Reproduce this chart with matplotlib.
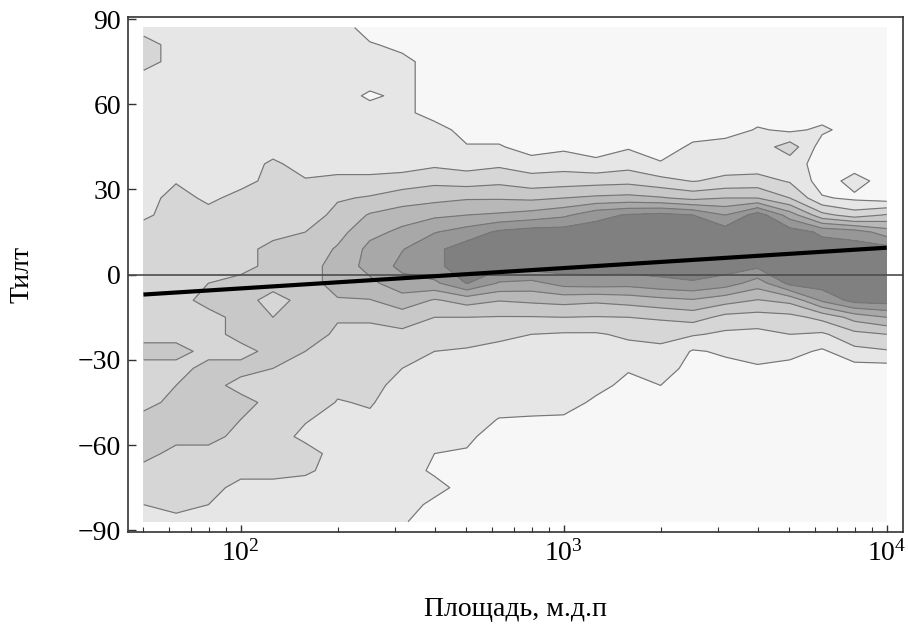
import numpy as np
import matplotlib
matplotlib.use("Agg")
from matplotlib import pyplot as plt
from matplotlib.ticker import FixedLocator, LogLocator, NullFormatter

plt.rcParams['font.family'] = ['Liberation Serif', 'DejaVu Serif']
plt.rcParams['mathtext.fontset'] = 'custom'
plt.rcParams['mathtext.rm'] = 'Liberation Serif'
plt.rcParams['mathtext.it'] = 'Liberation Serif:italic'

# bin centres: log10 of area and tilt in degrees
log_area_bins = [1.7, 1.8, 1.9, 2.0, 2.1, 2.2, 2.3, 2.4, 2.5, 2.6, 2.7, 2.8,
                 2.9, 3.0, 3.1, 3.2, 3.3, 3.4, 3.5, 3.6, 3.7, 3.8, 3.9, 4.0]
tilt_bins = [87, 81, 75, 69, 63, 57, 51, 45, 39, 33, 27, 21, 15, 9, 3,
             -3, -9, -15, -21, -27, -33, -39, -45, -51, -57, -63, -69, -75, -81, -87]

# density level per area bin (one list per column, tilt from +87 down to -87)
level_cols = [
    [1, 2, 2, 1, 1, 1, 1, 1, 1, 1, 1, 1.3, 2, 2, 2, 2, 2, 2, 2, 3, 2, 2, 2, 3, 3, 3, 2, 2, 1.5, 1],
    [1, 1, 1, 1, 1, 1, 1, 1, 1, 1.4, 2, 2, 2, 2, 2, 2, 2, 2, 2, 3, 2, 2.5, 3, 3, 3, 2, 2, 2, 2, 1],
    [1, 1, 1, 1, 1, 1, 1, 1, 1, 1, 1.2, 2, 2, 2, 2, 2.5, 3, 2, 2, 2, 3, 3, 3, 3, 3, 2, 2, 2, 1.5, 1],
    [1, 1, 1, 1, 1, 1, 1, 1, 1, 1, 2, 2, 2, 2, 2, 3, 3, 3, 3, 2, 3, 2, 3, 2.5, 2, 2, 2, 1, 1, 1],
    [1, 1, 1, 1, 1, 1, 1, 1, 1.7, 2, 2, 2, 2, 3, 3, 3, 2, 2.5, 3, 3, 2.5, 2, 2, 2, 2, 2, 2, 1, 1, 1],
    [1, 1, 1, 1, 1, 1, 1, 1, 1, 1.6, 2, 2, 2.5, 3, 3, 3, 3, 3, 3, 2.5, 2, 2, 2, 1.6, 1.2, 2, 1.7, 1, 1, 1],
    [1, 1, 1, 1, 1, 1, 1, 1, 1, 1.8, 2.4, 2.8, 3.2, 3.6, 4, 4, 3.4, 2.6, 2.3, 2.1, 1.9, 1.7, 1.45, 1, 1, 1, 1, 1, 1, 1],
    [0, 0.6, 1, 1, 0.3, 1, 1, 1, 1, 1.8, 2.6, 3.6, 4.2, 4.8, 4.8, 4.3, 3.45, 2.6, 2.3, 2.1, 1.9, 1.75, 1.58, 1.35, 1, 1, 1, 1, 1, 1],
    [0, 0.2, 0.8, 0.8, 0.8, 0.8, 0.8, 1, 1, 2.0, 3.0, 4.0, 4.75, 5.45, 5.8, 5.05, 4.1, 2.97, 2.27, 1.9, 1.5, 1.2, 1, 1, 1, 1, 1, 1, 1, 0.6],
    [0, 0, 0, 0, 0, 0, 1, 1, 1.3, 2.25, 3.2, 4.3, 5.45, 6.3, 6.3, 5.3, 3.4, 2.5, 2.0, 1.5, 1.2, 1, 1, 1, 0.8, 0.5, 0.3, 0.9, 0.2, 0],
    [0, 0, 0, 0, 0, 0, 0, 0.6, 1.1, 2.06, 3.4, 4.5, 5.95, 7, 7, 6.55, 3.9, 2.5, 1.9, 1.4, 1.3, 1.2, 1.1, 1, 0.7, 0.4, 0, 0, 0, 0],
    [0, 0, 0, 0, 0, 0, 0, 0.6, 1.3, 2.25, 3.4, 4.65, 6.7, 7, 6.8, 5.4, 3.55, 2.45, 1.65, 1.3, 1.2, 1.1, 1.0, 0.45, 0, 0, 0, 0, 0, 0],
    [0, 0, 0, 0, 0, 0, 0, 0, 1, 1.9, 3.3, 4.9, 7, 7, 7, 5.2, 3.7, 2.45, 1.5, 1.3, 1.2, 1.1, 0.9, 0.4, 0, 0, 0, 0, 0, 0],
    [0, 0, 0, 0, 0, 0, 0, 0.3, 1.1, 2.0, 3.5, 5.3, 7, 7, 7, 5.9, 3.85, 2.5, 1.4, 1.3, 1.2, 1.1, 0.9, 0.35, 0, 0, 0, 0, 0, 0],
    [0, 0, 0, 0, 0, 0, 0, 0, 0.8, 2.1, 3.7, 6.2, 7, 7, 7, 6.0, 3.7, 2.45, 1.4, 1.2, 1.1, 0.8, 0.3, 0, 0, 0, 0, 0, 0, 0],
    [0, 0, 0, 0, 0, 0, 0, 0.4, 1.1, 2.2, 3.8, 6.6, 7, 7, 7, 5.9, 3.9, 2.5, 1.7, 1.1, 0.6, 0.2, 0, 0, 0, 0, 0, 0, 0, 0],
    [0, 0, 0, 0, 0, 0, 0, 0, 0.6, 1.8, 3.6, 6.8, 7, 7, 7, 6.2, 4.2, 2.65, 1.75, 1.3, 1.1, 0.5, 0.2, 0, 0, 0, 0, 0, 0, 0],
    [0, 0, 0, 0, 0, 0, 0, 0.7, 1.0, 1.45, 3.2, 6.5, 7, 7, 7, 6.4, 4.4, 2.9, 1.6, 0.4, 0, 0, 0, 0, 0, 0, 0, 0, 0, 0],
    [0, 0, 0, 0, 0, 0, 0, 1, 1, 1.75, 3.5, 5.5, 7, 7, 7, 6.0, 3.9, 2.2, 1.3, 0.65, 0.2, 0, 0, 0, 0, 0, 0, 0, 0, 0],
    [0, 0, 0, 0, 0, 0, 0.6, 1, 1, 1.85, 3.5, 7, 7, 7, 6.7, 5.0, 3.45, 2.1, 1.2, 1.0, 0.35, 0, 0, 0, 0, 0, 0, 0, 0, 0],
    [0, 0, 0, 0, 0, 0, 0.3, 2, 1, 1.4, 2.5, 5.0, 7, 7, 7, 6.8, 3.8, 2.2, 1.5, 0.8, 0.2, 0, 0, 0, 0, 0, 0, 0, 0, 0],
    [0, 0, 0, 0, 0, 0, 0.7, 0, 0, 0, 0.6, 2.8, 6.3, 7, 7, 7, 5.7, 2.8, 1.35, 0.35, 0, 0, 0, 0, 0, 0, 0, 0, 0, 0],
    [0, 0, 0, 0, 0, 0, 0, 0, 0, 0.9, 0.3, 2.0, 6.0, 7, 7, 7, 6.9, 3.9, 2.2, 1.2, 0.1, 0, 0, 0, 0, 0, 0, 0, 0, 0],
    [0, 0, 0, 0, 0, 0, 0, 0, 0, 0, 0, 2.6, 5.0, 6.9, 7, 7, 7, 4.5, 2.5, 1.4, 0.1, 0, 0, 0, 0, 0, 0, 0, 0, 0],
]

# linear trend of tilt with area
fit_area = [50, 10000]
fit_tilt = [-7.0, 9.5]

contour_levels = [-0.5, 0.5, 1.5, 2.5, 3.5, 4.5, 5.5, 6.5, 7.5]
gray_shades = ['#f7f7f7', '#e6e6e6', '#d6d6d6', '#c8c8c8',
               '#b8b8b8', '#a8a8a8', '#979797', '#808080']

area = 10 ** np.array(log_area_bins)
z = np.array(level_cols).T

fig = plt.figure(figsize=(9.08, 6.31), dpi=100)
ax = fig.add_axes([0.141, 0.157, 0.8535, 0.8154])

ax.contourf(area, tilt_bins, z, levels=contour_levels, colors=gray_shades)
ax.contour(area, tilt_bins, z, levels=contour_levels[1:-1],
           colors='#767676', linewidths=0.85)
ax.axhline(0, color='#4d4d4d', lw=1.2)
ax.plot(fit_area, fit_tilt, color='black', lw=3, solid_capstyle='butt')

ax.set_xscale('log')
ax.set_xlim(44.8, 11230)
ax.set_ylim(-90.6, 90.6)
ax.xaxis.set_major_locator(FixedLocator([100, 1000, 10000]))
ax.xaxis.set_minor_locator(LogLocator(base=10, subs=np.arange(2, 10)))
ax.xaxis.set_minor_formatter(NullFormatter())
ax.set_yticks([-90, -60, -30, 0, 30, 60, 90])

ax.tick_params(which='both', direction='in', top=False, right=False,
               color='#333333', labelsize=20)
ax.tick_params(axis='x', which='major', length=5, width=1, pad=6)
ax.tick_params(axis='x', which='minor', length=3.5, width=0.8)
ax.tick_params(axis='y', which='major', length=6, width=1, pad=5)
for sp in ax.spines.values():
    sp.set_color('#333333')
    sp.set_linewidth(1.2)

ax.set_xlabel('Площадь, м.д.п', fontsize=20, labelpad=22)
ax.set_ylabel('Тилт', fontsize=20, labelpad=31)

fig.savefig('out.png', dpi=100)
